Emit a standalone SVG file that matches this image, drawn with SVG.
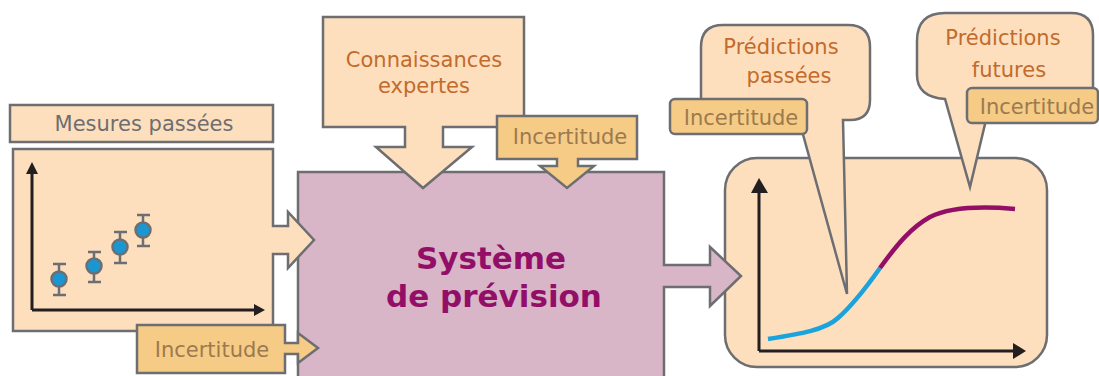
<svg xmlns="http://www.w3.org/2000/svg" width="1099" height="376" viewBox="0 0 1099 376">
<style>
.peach{fill:#fddfbe;stroke:#6d6e71;stroke-width:2.5;stroke-linejoin:miter}
.unc{fill:#f6cb86;stroke:#6d6e71;stroke-width:2.5}
.mauve{fill:#d8b5c7;stroke:#6d6e71;stroke-width:2.5}
.t{font-family:"DejaVu Sans","Verdana",sans-serif;font-size:21px;text-anchor:middle}
.tu{fill:#9c7a4f}
.to{fill:#c26b2d}
.tg{fill:#6e6e70}
.big{font-family:"DejaVu Sans","Verdana",sans-serif;font-size:31px;font-weight:bold;fill:#930e67;text-anchor:middle}
.axis{stroke:#231f20;stroke-width:3;fill:none}
.ah{fill:#231f20}
.bar{stroke:#6d6e71;stroke-width:2.5;fill:none}
.pt{fill:#1a97d2;stroke:#6d6e71;stroke-width:2.5}
</style>
<g id="chart-future">
<rect x="725" y="158" width="322" height="209" rx="32" class="peach"/>
<path d="M759,351 V190" class="axis"/>
<polygon points="759,178 751,193 768,193" class="ah"/>
<path d="M759,351 H1015" class="axis"/>
<polygon points="1026,351 1013,343 1013,359" class="ah"/>
<path d="M768,339 C800,334 825,330 838,318 C855,303 868,285 880,268" stroke="#1aa3dc" stroke-width="4.5" fill="none"/>
<path d="M880,268 C898,243 912,227 930,217 C950,207 980,206 1015,209" stroke="#930e67" stroke-width="4.5" fill="none"/>
</g>
<g id="systeme">
<path d="M298,172 H664 V265 H710 V247 L741,276 L710,306 V287 H664 V392 H298 Z" class="mauve"/>
<text class="big" x="491" y="269">Système</text>
<text class="big" x="494" y="307">de prévision</text>
</g>
<g id="mesures-label">
<rect x="10" y="105" width="263" height="37" class="peach"/>
<text class="t tg" x="144" y="131">Mesures passées</text>
</g>
<g id="mesures-chart">
<path d="M13,149 H273 V226 H288 V212 L314,240 L288,268 V254 H273 V331 H13 Z" class="peach"/>
<path d="M32,310 V172" class="axis"/>
<polygon points="32,162 26,174 38,174" class="ah"/>
<path d="M32,310 H256" class="axis"/>
<polygon points="265,310 254,304 254,316" class="ah"/>
<path d="M59,264 V295 M53,264 H66 M53,295 H66" class="bar"/>
<path d="M94,252 V282 M88,252 H101 M88,282 H101" class="bar"/>
<path d="M120,232 V263 M114,232 H127 M114,263 H127" class="bar"/>
<path d="M143,215 V246 M137,215 H150 M137,246 H150" class="bar"/>
<circle cx="59" cy="279" r="7.5" class="pt"/>
<circle cx="94" cy="266" r="7.5" class="pt"/>
<circle cx="120" cy="247" r="7.5" class="pt"/>
<circle cx="143" cy="230" r="7.5" class="pt"/>
</g>
<g id="incertitude-mesures">
<path d="M137,325 H285 V343 H298 V333 L318,348 L298,363 V354 H285 V373 H137 Z" class="unc"/>
<text class="t tu" x="212" y="357">Incertitude</text>
</g>
<g id="connaissances">
<path d="M323,17 H524 V127 H443 V147 H472 L423,188 L376,147 H405 V127 H323 Z" class="peach"/>
<text class="t to" x="424" y="67">Connaissances</text>
<text class="t to" x="424" y="93">expertes</text>
</g>
<g id="incertitude-expertes">
<path d="M497,116 H637 V159 H578 V166 H594 L567,188 L540,166 H557 V159 H497 Z" class="unc"/>
<text class="t tu" x="570" y="144">Incertitude</text>
</g>
<g id="predictions-passees">
<path d="M723,25 H848 Q870,25 870,47 V100 Q870,120 850,120 H843 L847,294 L799,120 H721 Q701,120 701,100 V47 Q701,25 723,25 Z" class="peach"/>
<text class="t to" x="781" y="54">Prédictions</text>
<text class="t to" x="789" y="83">passées</text>
</g>
<g id="incertitude-passees">
<rect x="670" y="99" width="137" height="35" rx="5" class="unc"/>
<text class="t tu" x="741" y="125">Incertitude</text>
</g>
<g id="predictions-futures">
<path d="M945,13 H1071 Q1093,13 1093,35 V90 L991,99 L970,187 L945,99 Q917,97 917,75 V41 Q917,13 945,13 Z" class="peach"/>
<text class="t to" x="1003" y="45">Prédictions</text>
<text class="t to" x="1009" y="77">futures</text>
</g>
<g id="incertitude-futures">
<rect x="967" y="88" width="131" height="35" rx="5" class="unc"/>
<text class="t tu" x="1037" y="114">Incertitude</text>
</g>
<g id="connectors"></g>
</svg>
